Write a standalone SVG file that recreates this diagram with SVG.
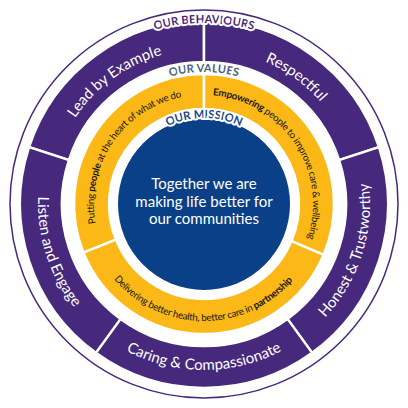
<svg xmlns="http://www.w3.org/2000/svg" width="408" height="408" viewBox="0 0 408 408">
<style>
.pur{fill:#46287c;stroke:#fff;stroke-width:2.5;stroke-linejoin:miter}
.yel{fill:#fbb817;stroke:#fff;stroke-width:2.5}
.pt{font-family:Lato,"Open Sans",sans-serif;font-size:15px;fill:#fff}
.yt{font-family:Lato,"Open Sans",sans-serif;font-size:9.9px;letter-spacing:-0.3px;fill:#1a1a1a}
.lbl{font-family:Lato,"Open Sans",sans-serif;font-size:11.3px;font-weight:bold;stroke:#fff;stroke-width:4;stroke-linejoin:round;paint-order:stroke}
.mt{font-family:Lato,"Open Sans",sans-serif;font-size:15px;fill:#fff;text-anchor:middle}
</style>
<defs>
<path id="pLead" d="M56.58,156.1 A155,155 0 0 1 204,49"/>
<path id="pResp" d="M204,49 A155,155 0 0 1 351.42,156.1"/>
<path id="pHon" d="M301.57,338.29 A166,166 0 0 0 361.88,152.71"/>
<path id="pCar" d="M106.43,338.29 A166,166 0 0 0 301.57,338.29"/>
<path id="pLis" d="M46.12,152.71 A166,166 0 0 0 106.43,338.29"/>
<path id="pPut" d="M102.01,245.21 A109,109 0 0 1 204,95"/>
<path id="pEmp" d="M204,95 A109,109 0 0 1 304.33,246.59"/>
<path id="pDel" d="M95.52,247.83 A117,117 0 0 0 311.70,249.72"/>
<path id="pBeh" d="M113.5,47.25 A181,181 0 0 1 294.5,47.25"/>
<path id="pVal" d="M138,89.68 A132,132 0 0 1 270,89.68"/>
<path id="pMis" d="M154.67,133.55 A86,86 0 0 1 253.33,133.55"/>
</defs>
<rect width="408" height="408" fill="#fff"/>
<circle cx="204" cy="204" r="194" fill="none" stroke="#46287c" stroke-width="1.5"/>
<g id="connectors"/>
<g id="lead-by-example">
<path class="pur" d="M29,147.14 A184,184 0 0 1 204,20 L204,62 A142,142 0 0 0 68.94,160.12 Z"/>
<text class="pt"><textPath href="#pLead" startOffset="50%" text-anchor="middle">Lead by Example</textPath></text>
</g>
<g id="respectful">
<path class="pur" d="M204,20 A184,184 0 0 1 379,147.14 L339.06,160.12 A142,142 0 0 0 204,62 Z"/>
<text class="pt"><textPath href="#pResp" startOffset="50%" text-anchor="middle">Respectful</textPath></text>
</g>
<g id="honest-trustworthy">
<path class="pur" d="M379,147.14 A184,184 0 0 1 312.16,352.86 L287.47,318.88 A142,142 0 0 0 339.06,160.12 Z"/>
<text class="pt"><textPath href="#pHon" startOffset="50%" text-anchor="middle">Honest &amp; Trustworthy</textPath></text>
</g>
<g id="caring-compassionate">
<path class="pur" d="M312.16,352.86 A184,184 0 0 1 95.84,352.86 L120.53,318.88 A142,142 0 0 0 287.47,318.88 Z"/>
<text class="pt"><textPath href="#pCar" startOffset="50%" text-anchor="middle">Caring &amp; Compassionate</textPath></text>
</g>
<g id="listen-engage">
<path class="pur" d="M95.84,352.86 A184,184 0 0 1 29,147.14 L68.94,160.12 A142,142 0 0 0 120.53,318.88 Z"/>
<text class="pt"><textPath href="#pLis" startOffset="50%" text-anchor="middle">Listen and Engage</textPath></text>
</g>
<g id="value-people">
<path class="yel" d="M83.46,252.7 A130,130 0 0 1 204,74 L204,109 A95,95 0 0 0 115.92,239.59 Z"/>
<text class="yt"><textPath href="#pPut" startOffset="50%" text-anchor="middle">Putting <tspan font-weight="bold">people</tspan> at the heart of what we do</textPath></text>
</g>
<g id="value-empowering">
<path class="yel" d="M204,74 A130,130 0 0 1 323.67,254.79 L291.45,241.12 A95,95 0 0 0 204,109 Z"/>
<text class="yt"><textPath href="#pEmp" startOffset="50%" text-anchor="middle"><tspan font-weight="bold">Empowering</tspan> people to improve care &amp; wellbeing</textPath></text>
</g>
<g id="value-partnership">
<path class="yel" d="M323.67,254.79 A130,130 0 0 1 83.46,252.7 L115.92,239.59 A95,95 0 0 0 291.45,241.12 Z"/>
<text class="yt"><textPath href="#pDel" startOffset="50%" text-anchor="middle">Delivering better health, better care in <tspan font-weight="bold">partnership</tspan></textPath></text>
</g>
<g id="mission">
<circle cx="204" cy="204" r="86" fill="#0a4087"/>
<text class="mt" x="204" y="189">Together we are</text>
<text class="mt" x="204" y="207">making life better for</text>
<text class="mt" x="204" y="224">our communities</text>
</g>
<g id="labels">
<text class="lbl" fill="#46287c"><textPath href="#pBeh" startOffset="50%" text-anchor="middle">OUR BEHAVIOURS</textPath></text>
<text class="lbl" fill="#4b5f78"><textPath href="#pVal" startOffset="50%" text-anchor="middle">OUR VALUES</textPath></text>
<text class="lbl" fill="#15468f"><textPath href="#pMis" startOffset="50%" text-anchor="middle">OUR MISSION</textPath></text>
</g>
</svg>
